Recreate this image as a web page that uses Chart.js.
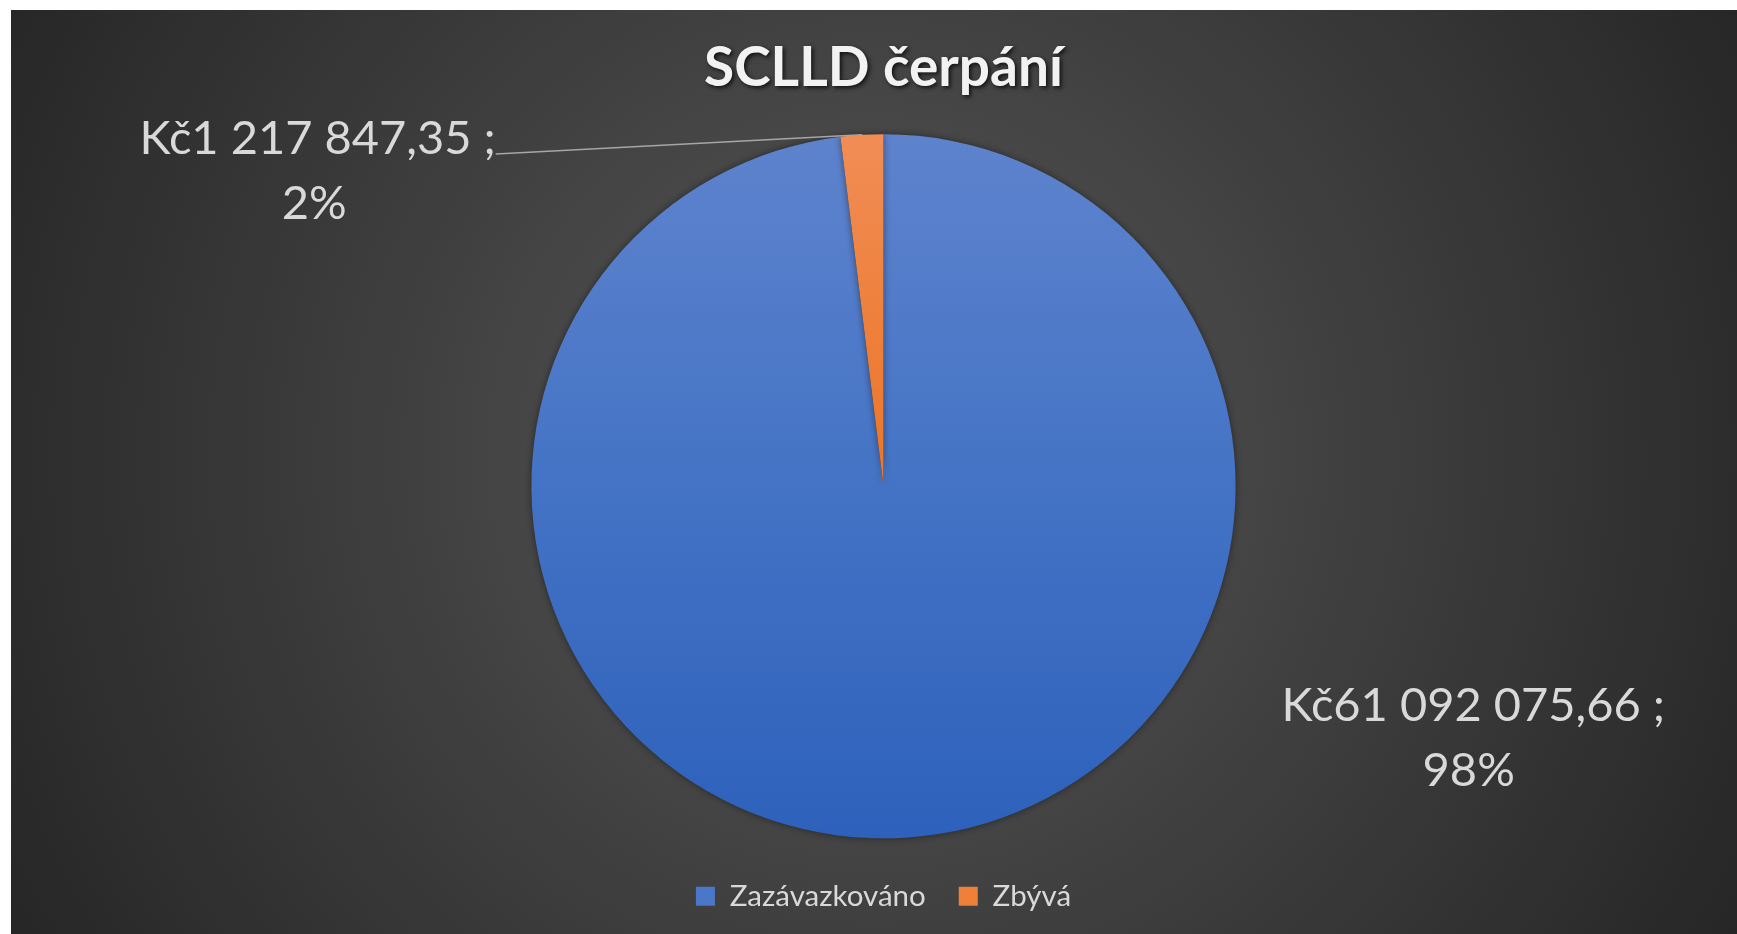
<!DOCTYPE html>
<html>
<head>
<meta charset="utf-8">
<script src="https://cdn.jsdelivr.net/npm/chart.js@4/dist/chart.umd.min.js"></script>
<style>
  html, body { margin: 0; padding: 0; background: #fff; }
  #wrap {
    position: absolute; left: 11px; top: 10px;
    width: 1726px; height: 924px;
    background: radial-gradient(circle farthest-corner at 50% 48%, #595959 0%, #414141 45%, #262626 100%);
  }
</style>
</head>
<body>
<div id="wrap"><canvas id="chart-pie"></canvas></div>
<script>
const chartTitle = 'SCLLD čerpání';
const categories = ['Zazávazkováno', 'Zbývá'];
const amounts = [61092075.66, 1217847.35];

const FONT = 'Lato, "Open Sans", sans-serif';

function fmtKc(v) {
    const parts = v.toFixed(2).split('.');
    return 'Kč' + parts[0].replace(/\B(?=(\d{3})+(?!\d))/g, ' ') + ',' + parts[1];
}

// gradient stops per slice, top -> bottom of the pie
const sliceStops = [
    ['#5e83cd', '#4473c5', '#2d61bb'],
    ['#f18d55', '#eb7526', '#de6914'],
];
const swatch = ['#4a77c7', '#ee8038'];

function sliceFill(ctx) {
    const chart = ctx.chart;
    const area = chart.chartArea;
    const stops = sliceStops[ctx.dataIndex % sliceStops.length];
    if (!area) return stops[1];
    const r = Math.min(area.right - area.left, area.bottom - area.top) / 2 * 0.972;
    const cy = (area.top + area.bottom) / 2;
    const g = chart.ctx.createLinearGradient(0, cy - r, 0, cy + r);
    g.addColorStop(0, stops[0]);
    g.addColorStop(0.5, stops[1]);
    g.addColorStop(1, stops[2]);
    return g;
}

// slight shadow around the pie
const pieShadow = {
    id: 'pieShadow',
    beforeDatasetsDraw(chart) {
        const c = chart.ctx;
        c.save();
        c.shadowColor = 'rgba(0,0,0,0.45)';
        c.shadowBlur = 7;
    },
    afterDatasetsDraw(chart) {
        chart.ctx.restore();
    },
};

// label placement relative to pie centre, in units of radius (Excel "best fit")
const labelPlace = [
    { dx: 1.675, dy: 0.623, dx2: -0.013, leader: false },
    { dx: -1.607, dy: -0.986, dx2: -0.01, leader: true },
];

const dataLabels = {
    id: 'dataLabels',
    afterDatasetsDraw(chart) {
        const c = chart.ctx;
        const meta = chart.getDatasetMeta(0);
        const total = amounts.reduce((a, b) => a + b, 0);
        c.save();
        c.font = '47px ' + FONT;
        c.fillStyle = '#d9d9d9';
        c.textAlign = 'center';
        c.textBaseline = 'middle';
        meta.data.forEach((arc, i) => {
            const p = labelPlace[i];
            const r = arc.outerRadius;
            const x = arc.x + p.dx * r;
            const y = arc.y + p.dy * r;
            const line1 = fmtKc(amounts[i]) + ' ;';
            const line2 = Math.round(amounts[i] / total * 100) + '%';
            c.fillText(line1, x, y);
            c.fillText(line2, x + p.dx2 * r, y + 65);
            if (p.leader) {
                const w = c.measureText(line1).width;
                const mid = (arc.startAngle + arc.endAngle) / 2;
                c.strokeStyle = '#a6a6a6';
                c.lineWidth = 1.5;
                c.beginPath();
                c.moveTo(x + w / 2, y + 15);
                c.lineTo(arc.x + Math.cos(mid) * r, arc.y + Math.sin(mid) * r);
                c.stroke();
            }
        });
        c.restore();
    },
};

const titleText = {
    id: 'titleText',
    afterDraw(chart) {
        const c = chart.ctx;
        const area = chart.chartArea;
        c.save();
        c.font = 'bold 55px ' + FONT;
        c.textAlign = 'center';
        c.textBaseline = 'middle';
        c.shadowColor = 'rgba(0,0,0,0.75)';
        c.shadowBlur = 4;
        c.shadowOffsetX = 2;
        c.shadowOffsetY = 2;
        c.fillStyle = '#f2f2f2';
        c.fillText(chartTitle, (area.left + area.right) / 2, 58);
        c.restore();
    },
};

new Chart(document.getElementById('chart-pie'), {
    type: 'pie',
    data: {
        labels: categories,
        datasets: [{
            data: amounts,
            backgroundColor: sliceFill,
            borderWidth: 0,
            radius: '97.2%',
        }],
    },
    options: {
        responsive: true,
        maintainAspectRatio: false,
        animation: false,
        layout: { padding: { top: 114, bottom: 13, left: 19, right: 0 } },
        plugins: {
            tooltip: { enabled: false },
            title: { display: false },
            legend: {
                position: 'bottom',
                labels: {
                    boxWidth: 19,
                    boxHeight: 19,
                    padding: 33,
                    color: '#d9d9d9',
                    font: { family: FONT, size: 29.5 },
                    generateLabels: () => categories.map((t, i) => ({
                        text: t,
                        fillStyle: swatch[i],
                        strokeStyle: swatch[i],
                        lineWidth: 0,
                        fontColor: '#d9d9d9',
                        hidden: false,
                        index: i,
                        datasetIndex: 0,
                    })),
                },
            },
        },
    },
    plugins: [pieShadow, dataLabels, titleText],
});
</script>
</body>
</html>
